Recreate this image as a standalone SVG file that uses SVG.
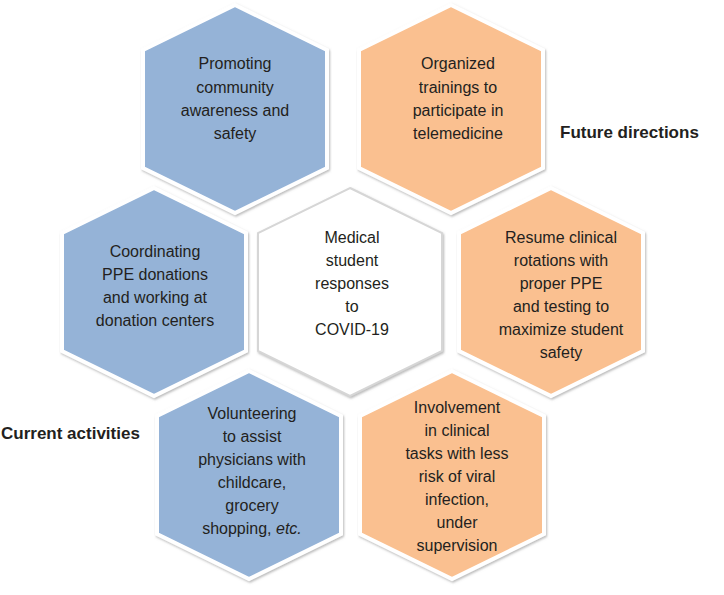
<svg xmlns="http://www.w3.org/2000/svg" width="724" height="595" viewBox="0 0 724 595">
<style>
.hex{stroke:#ffffff;stroke-width:4;stroke-linejoin:miter;filter:url(#sh)}
.blue{fill:#95B3D7}
.orange{fill:#FAC090}
.white{fill:#ffffff;stroke:#d6d6d6;stroke-width:2}
.t{font-family:"Liberation Sans",Arial,sans-serif;font-size:16px;fill:#231F20;text-anchor:middle}
.h{font-family:"Liberation Sans",Arial,sans-serif;font-size:17px;font-weight:bold;fill:#231F20}
</style>
<defs>
<filter id="sh" x="-10%" y="-10%" width="120%" height="120%">
<feDropShadow dx="1" dy="1.5" stdDeviation="1.2" flood-color="#7f7f7f" flood-opacity="0.55"/>
</filter>
<path id="hx" d="M0,-104 L92,-59 L92,59 L0,104 L-92,59 L-92,-59 Z"/>
</defs>
<g id="connectors"></g>
<g id="n-awareness">
<use href="#hx" class="hex blue" transform="translate(235,109)"/>
<text class="t" x="235" y="69">Promoting</text>
<text class="t" x="235" y="93">community</text>
<text class="t" x="235" y="116">awareness and</text>
<text class="t" x="235" y="139">safety</text>
</g>
<g id="n-telemedicine">
<use href="#hx" class="hex orange" transform="translate(451,109)"/>
<text class="t" x="458" y="69">Organized</text>
<text class="t" x="458" y="93">trainings to</text>
<text class="t" x="458" y="116">participate in</text>
<text class="t" x="458" y="139">telemedicine</text>
</g>
<g id="n-ppe">
<use href="#hx" class="hex blue" transform="translate(154,292)"/>
<text class="t" x="155" y="257">Coordinating</text>
<text class="t" x="155" y="280">PPE donations</text>
<text class="t" x="155" y="303">and working at</text>
<text class="t" x="155" y="326">donation centers</text>
</g>
<g id="n-center">
<use href="#hx" class="hex white" transform="translate(350,292)"/>
<text class="t" x="352" y="243">Medical</text>
<text class="t" x="352" y="266">student</text>
<text class="t" x="352" y="289">responses</text>
<text class="t" x="352" y="312">to</text>
<text class="t" x="352" y="335">COVID-19</text>
</g>
<g id="n-rotations">
<use href="#hx" class="hex orange" transform="translate(551,292)"/>
<text class="t" x="561" y="243">Resume clinical</text>
<text class="t" x="561" y="266">rotations with</text>
<text class="t" x="561" y="289">proper PPE</text>
<text class="t" x="561" y="312">and testing to</text>
<text class="t" x="561" y="335">maximize student</text>
<text class="t" x="561" y="358">safety</text>
</g>
<g id="n-volunteering">
<use href="#hx" class="hex blue" transform="translate(249,475)"/>
<text class="t" x="252" y="419">Volunteering</text>
<text class="t" x="252" y="442">to assist</text>
<text class="t" x="252" y="465">physicians with</text>
<text class="t" x="252" y="488">childcare,</text>
<text class="t" x="252" y="511">grocery</text>
<text class="t" x="252" y="534">shopping, <tspan font-style="italic">etc.</tspan></text>
</g>
<g id="n-clinical">
<use href="#hx" class="hex orange" transform="translate(452,475)"/>
<text class="t" x="457" y="413">Involvement</text>
<text class="t" x="457" y="436">in clinical</text>
<text class="t" x="457" y="459">tasks with less</text>
<text class="t" x="457" y="482">risk of viral</text>
<text class="t" x="457" y="505">infection,</text>
<text class="t" x="457" y="528">under</text>
<text class="t" x="457" y="551">supervision</text>
</g>
<g id="labels">
<text class="h" x="560" y="138">Future directions</text>
<text class="h" x="1" y="439">Current activities</text>
</g>
</svg>
